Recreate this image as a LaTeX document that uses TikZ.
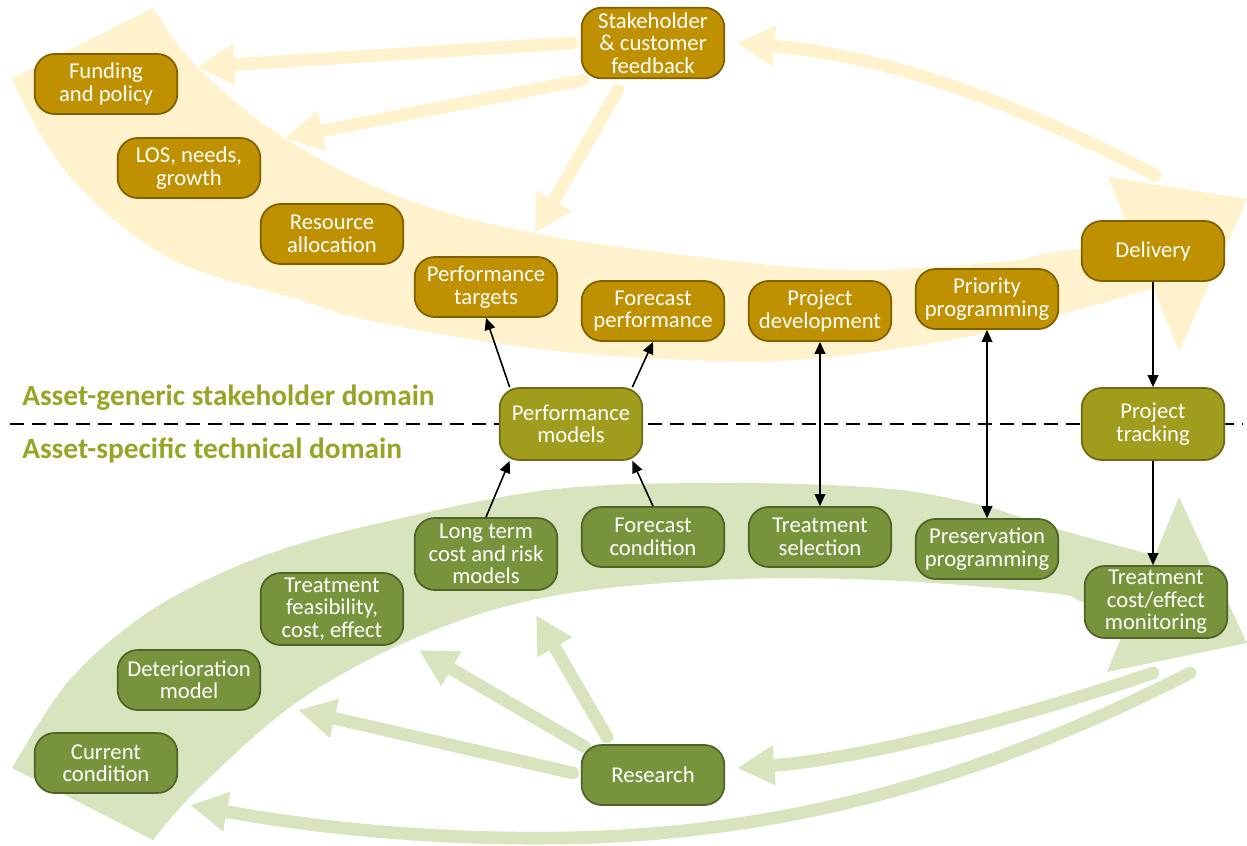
\documentclass[tikz,border=0pt]{standalone}
\usepackage{fontspec}
\setmainfont{Carlito}
\usetikzlibrary{arrows.meta,calc,backgrounds}
\definecolor{gold}{RGB}{191,144,0}
\definecolor{goldline}{RGB}{127,96,0}
\definecolor{olivebox}{RGB}{160,156,30}
\definecolor{oliveline}{RGB}{112,104,20}
\definecolor{greenbox}{RGB}{119,147,60}
\definecolor{greenline}{RGB}{79,98,40}
\definecolor{paleyellow}{RGB}{255,242,204}
\definecolor{palegreen}{RGB}{215,228,189}
\definecolor{domaintext}{RGB}{150,165,38}
\begin{document}
\begin{tikzpicture}[x=0.75pt,y=-0.75pt,
  procbox/.style={rounded corners=15pt, minimum width=107pt, minimum height=45pt,
    align=center, text=white, font=\fontsize{17}{16.8}\selectfont,
    line width=1.3pt, inner sep=1pt},
  tallbox/.style={minimum height=54pt},
  goldbox/.style={procbox, fill=gold, draw=goldline},
  olivebx/.style={procbox, fill=olivebox, draw=oliveline},
  greenbx/.style={procbox, fill=greenbox, draw=greenline},
  yarrow/.style={draw=paleyellow, line width=9.5pt, line cap=round,
    -{Triangle[length=28pt,width=29pt]}},
  garrow/.style={draw=palegreen, line width=9.5pt, line cap=round,
    -{Triangle[length=28pt,width=28pt]}},
  conn/.style={draw=black, line width=1.2pt, -{Triangle[length=9pt,width=8pt]}},
  conn2/.style={draw=black, line width=1.2pt, {Triangle[length=9pt,width=8pt]}-{Triangle[length=9pt,width=8pt]}},
  domainlabel/.style={anchor=west, text=domaintext, font=\fontsize{22}{24}\selectfont\bfseries, inner sep=0pt}
]
\useasboundingbox (0,0) rectangle (1247,846);

% stakeholder-side process boxes
\node[goldbox, tallbox, minimum height=53pt] (stake) at (653,43) {Stakeholder\\\& customer\\feedback};
\node[goldbox] (fund) at (106,84) {Funding\\and policy};
\node[goldbox] (los) at (189,168) {LOS, needs,\\growth};
\node[goldbox] (res) at (332,234) {Resource\\allocation};
\node[goldbox] (pt) at (486,287) {Performance\\targets};
\node[goldbox] (fp) at (653,311) {Forecast\\performance};
\node[goldbox] (pd) at (820,311) {Project\\development};
\node[goldbox] (pp) at (987,299) {Priority\\programming};
\node[goldbox] (del) at (1153,251) {Delivery};

% boxes on the domain boundary
\node[olivebx, tallbox] (pm) at (571,424) {Performance\\models};
\node[olivebx, tallbox] (track) at (1153,424) {Project\\tracking};

% technical-side process boxes
\node[greenbx, tallbox] (lt) at (486,554) {Long term\\cost and risk\\models};
\node[greenbx] (fc) at (653,537) {Forecast\\condition};
\node[greenbx] (ts) at (820,537) {Treatment\\selection};
\node[greenbx] (ps) at (987,549) {Preservation\\programming};
\node[greenbx, tallbox] (mon) at (1156,602) {Treatment\\cost/effect\\monitoring};
\node[greenbx, tallbox] (feas) at (332,609) {Treatment\\feasibility,\\cost, effect};
\node[greenbx] (det) at (189,680) {Deterioration\\model};
\node[greenbx] (cur) at (106,763) {Current\\condition};
\node[greenbx] (rsch) at (653,775) {Research};

% domain labels
\node[domainlabel] (gen) at (22,398) {Asset-generic stakeholder domain};
\node[domainlabel] (spec) at (22,450) {Asset-specific technical domain};

% end points of the wide feedback arrows
\coordinate (ya1) at (572,43);  \coordinate (yb1) at (197,67);
\coordinate (ya2) at (583,80);  \coordinate (yb2) at (285,138);
\coordinate (ya3) at (618,90);  \coordinate (yb3) at (535,233);
\coordinate (ya4) at (1155,175); \coordinate (yb4) at (737,43);
\coordinate (ga1) at (607,737); \coordinate (gb1) at (536,615);
\coordinate (ga2) at (585,747); \coordinate (gb2) at (419,650);
\coordinate (ga3) at (573,773); \coordinate (gb3) at (298,710);
\coordinate (ga4) at (1153,673); \coordinate (gb4) at (737,768);
\coordinate (ga5) at (1190,673); \coordinate (gm5) at (560,838); \coordinate (gb5) at (190,805);
\coordinate (dl) at (10,424); \coordinate (dr) at (1243,424);

\begin{scope}[on background layer]
  % stakeholder band
  \fill[paleyellow] (12,79) -- plot[smooth, tension=0.6] coordinates
    {(153,8) (197,67) (283,137) (400,197) (533,233) (700,257) (850,270) (1000,262) (1050,253) (1140,240)}
    -- plot[smooth, tension=0.6] coordinates
    {(1158,287) (1050,317) (950,340) (820,358) (713,361) (547,350) (380,323) (300,300) (167,257) (67,173) (12,79)}
    -- cycle;
  \fill[paleyellow] (1108,177) -- (1247,199) -- (1179,352) -- cycle;
  % technical band
  \fill[palegreen] (153,840) -- plot[smooth, tension=0.6] coordinates
    {(12,768) (67,683) (133,623) (200,583) (280,550) (380,523) (547,490) (713,483) (880,488) (980,505) (1050,527) (1160,557)}
    -- plot[smooth, tension=0.6] coordinates
    {(1140,618) (1083,602) (1050,593) (880,580) (713,580) (547,597) (420,636) (300,700) (200,787) (153,840)}
    -- cycle;
  \fill[palegreen] (1179,497) -- (1247,643) -- (1107,672) -- cycle;

  % feedback arrows
  \draw[yarrow] (ya1) -- (yb1);
  \draw[yarrow] (ya2) -- (yb2);
  \draw[yarrow] (ya3) -- (yb3);
  \draw[yarrow] (ya4) .. controls (1000,95) and (880,55) .. (yb4);
  \draw[garrow] (ga1) -- (gb1);
  \draw[garrow] (ga2) -- (gb2);
  \draw[garrow] (ga3) -- (gb3);
  \draw[garrow] (ga4) .. controls (1000,725) and (850,760) .. (gb4);
  \draw[garrow] (ga5) .. controls (1000,770) and (800,835) .. (gm5)
                      .. controls (420,840) and (300,825) .. (gb5);

  % domain boundary
  \draw[black, line width=1.3pt, dash pattern=on 10.5pt off 6pt] (dl) -- (dr);
\end{scope}

% connectors
\draw[conn] (pm.149) -- (pt.south);
\draw[conn] (pm.31) -- (fp.south);
\draw[conn] (lt.north) -- (pm.211);
\draw[conn] (fc.north) -- (pm.-31);
\draw[conn2] (pd.south) -- (ts.north);
\draw[conn2] (pp.south) -- (ps.north);
\draw[conn] (del.south) -- (track.north);
\draw[conn] (track.south) -- (track.south |- mon.north);
\end{tikzpicture}
\end{document}
